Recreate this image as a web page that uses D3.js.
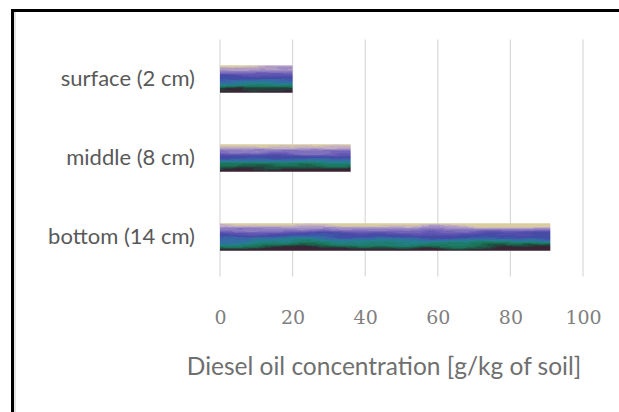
<!DOCTYPE html>
<html>
<head>
<meta charset="utf-8">
<script src="https://cdn.jsdelivr.net/npm/d3@7"></script>
<style>
  html, body { margin: 0; padding: 0; background: #fff; overflow: hidden; }
  svg { display: block; }
</style>
</head>
<body>
<div id="chartDiv"></div>
<script>
; (function () {

	var categories = ["surface (2 cm)", "middle (8 cm)", "bottom (14 cm)"];
	var values = [20, 36, 91];
	var xTicks = [0, 20, 40, 60, 80, 100];
	var xAxisLabelHeader = "Diesel oil concentration [g/kg of soil]";

	var width = 619;
	var height = 412;
	var plot = { left: 220, right: 583, top: 39.5, bottom: 276.5 };
	var pad = 10; // extra paint above/below each bar so the wave filter has room

	var chart = d3.select("#chartDiv").append("svg")
		.attr("width", width)
		.attr("height", height);

	var defs = chart.append("defs");

	var xScale = d3.scaleLinear()
		.domain([0, 100])
		.range([plot.left, plot.right]);

	var yScale = d3.scaleBand()
		.domain(categories)
		.range([plot.top, plot.bottom])
		.paddingInner(0.65)
		.paddingOuter(0.325);

	var bw = yScale.bandwidth();

	// vertical colour gradient for the painted-looking bars
	// (stops given as fraction of the visible bar height)
	var grad = defs.append("linearGradient")
		.attr("id", "barGrad")
		.attr("x1", 0).attr("y1", 0).attr("x2", 0).attr("y2", 1);
	[
		[-0.4, "#ddd0a0"],
		[0.05, "#d8cca0"],
		[0.12, "#c4aec4"],
		[0.22, "#8e7ec2"],
		[0.34, "#6458b4"],
		[0.46, "#4446a4"],
		[0.56, "#3a66a8"],
		[0.66, "#24808e"],
		[0.76, "#1c7a5c"],
		[0.86, "#1e4a3e"],
		[0.93, "#3a2034"],
		[1.4, "#3a2034"]
	].forEach(function (s) {
		grad.append("stop")
			.attr("offset", Math.max(0, Math.min(1, (pad + s[0] * bw) / (bw + 2 * pad))))
			.attr("stop-color", s[1]);
	});

	// wavy streaks: push the gradient around with noise
	var filt = defs.append("filter")
		.attr("id", "streaks")
		.attr("filterUnits", "userSpaceOnUse")
		.attr("x", 0).attr("y", 0).attr("width", width).attr("height", height);
	filt.append("feTurbulence")
		.attr("type", "fractalNoise")
		.attr("baseFrequency", "0.012 0.1")
		.attr("numOctaves", 3)
		.attr("seed", 7)
		.attr("result", "noise");
	filt.append("feDisplacementMap")
		.attr("in", "SourceGraphic")
		.attr("in2", "noise")
		.attr("scale", 12)
		.attr("xChannelSelector", "R")
		.attr("yChannelSelector", "G");

	// frame (top and left edges only, the rest is cropped off)
	chart.append("rect")
		.attr("x", 11).attr("y", 9)
		.attr("width", width - 11).attr("height", 3)
		.attr("fill", "#000");
	chart.append("rect")
		.attr("x", 11).attr("y", 9)
		.attr("width", 3).attr("height", height - 9)
		.attr("fill", "#000");
	chart.append("rect")
		.attr("x", 14).attr("y", 12)
		.attr("width", 2).attr("height", height - 12)
		.attr("fill", "#e3e3e3");

	// gridlines
	chart.append("g")
		.selectAll("line")
		.data(xTicks)
		.enter().append("line")
		.attr("x1", function (d) { return xScale(d); })
		.attr("x2", function (d) { return xScale(d); })
		.attr("y1", plot.top)
		.attr("y2", plot.bottom)
		.attr("stroke", "#d9d9d9")
		.attr("stroke-width", 1.2);

	// clip for each bar
	defs.selectAll("clipPath")
		.data(values)
		.enter().append("clipPath")
		.attr("id", function (d, i) { return "barClip" + i; })
		.append("rect")
		.attr("x", xScale(0))
		.attr("y", function (d, i) { return yScale(categories[i]); })
		.attr("width", function (d) { return xScale(d) - xScale(0); })
		.attr("height", bw);

	// bars
	var bars = chart.append("g")
		.selectAll("g")
		.data(values)
		.enter().append("g")
		.attr("clip-path", function (d, i) { return "url(#barClip" + i + ")"; });

	bars.append("rect")
		.attr("x", xScale(0) - pad)
		.attr("y", function (d, i) { return yScale(categories[i]) - pad; })
		.attr("width", function (d) { return xScale(d) - xScale(0) + 2 * pad; })
		.attr("height", bw + 2 * pad)
		.attr("fill", "url(#barGrad)")
		.attr("filter", "url(#streaks)");

	// category labels
	var yAxis = d3.axisLeft(yScale).tickSize(0).tickPadding(25);
	var yAxisG = chart.append("g")
		.attr("transform", "translate(" + plot.left + ",0)")
		.call(yAxis);
	yAxisG.select(".domain").remove();
	yAxisG.selectAll("text")
		.style("font-family", "Lato, 'Open Sans', sans-serif")
		.style("font-size", "22px")
		.attr("fill", "#595959");

	// x tick labels
	var xAxis = d3.axisBottom(xScale).tickValues(xTicks).tickSize(0).tickPadding(0);
	var xAxisG = chart.append("g")
		.attr("transform", "translate(0," + 310 + ")")
		.call(xAxis);
	xAxisG.select(".domain").remove();
	xAxisG.selectAll("text")
		.style("font-family", "'DejaVu Serif', serif")
		.style("font-size", "19px")
		.attr("fill", "#7f7f7f");

	chart.append("text")
		.attr("text-anchor", "middle")
		.attr("x", 384)
		.attr("y", 375)
		.style("font-family", "Lato, 'Open Sans', sans-serif")
		.style("font-size", "24.5px")
		.attr("fill", "#6f6f6f")
		.text(xAxisLabelHeader);

})();
</script>
</body>
</html>
